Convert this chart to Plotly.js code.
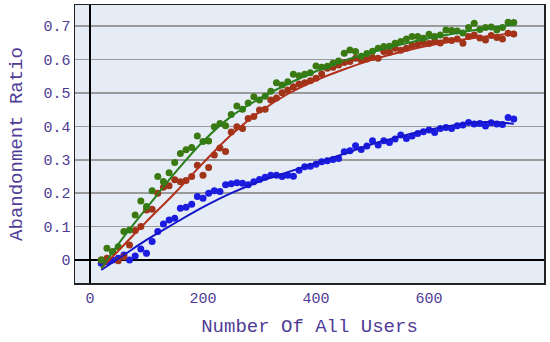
<!DOCTYPE html>
<html>
<head>
<meta charset="utf-8">
<script src="https://cdn.plot.ly/plotly-3.0.1.min.js"></script>
<style>html,body{margin:0;padding:0;background:#fff}#chart{width:550px;height:342px}</style>
</head>
<body>
<div id="chart"></div>
<script>
// x positions of observations
const users = [20,30,40,50,60,70,80,90,100,110,120,130,140,150,160,170,180,190,200,210,220,230,240,250,260,270,280,290,300,310,320,330,340,350,360,370,380,390,400,410,420,430,440,450,460,470,480,490,500,510,520,530,540,550,560,570,580,590,600,610,620,630,640,650,660,670,680,690,700,710,720,730,740,750];

const greenObs = [0.000,0.035,0.025,0.040,0.085,0.090,0.135,0.177,0.160,0.207,0.250,0.235,0.261,0.292,0.319,0.330,0.337,0.371,0.355,0.356,0.399,0.409,0.402,0.436,0.461,0.451,0.470,0.489,0.479,0.490,0.505,0.531,0.524,0.534,0.556,0.552,0.556,0.561,0.581,0.577,0.580,0.589,0.596,0.619,0.629,0.624,0.610,0.618,0.625,0.634,0.639,0.640,0.649,0.654,0.662,0.669,0.669,0.664,0.676,0.669,0.674,0.689,0.687,0.686,0.680,0.696,0.709,0.690,0.696,0.698,0.689,0.696,0.712,0.711];

const redObs = [0.000,0.005,0.025,-0.002,0.010,0.045,0.088,0.100,0.150,0.152,0.200,0.218,0.222,0.240,0.234,0.238,0.250,0.284,0.254,0.277,0.314,0.335,0.325,0.383,0.399,0.394,0.424,0.430,0.449,0.451,0.479,0.485,0.501,0.509,0.519,0.527,0.531,0.537,0.544,0.557,0.574,0.577,0.584,0.591,0.594,0.604,0.599,0.602,0.606,0.604,0.624,0.622,0.634,0.628,0.634,0.642,0.645,0.651,0.648,0.656,0.650,0.659,0.657,0.662,0.649,0.669,0.674,0.665,0.659,0.672,0.666,0.662,0.679,0.677];

const blueObs = [-0.010,-0.005,0.000,0.005,0.015,0.000,0.012,0.033,0.020,0.055,0.085,0.108,0.120,0.125,0.155,0.158,0.167,0.190,0.185,0.200,0.207,0.205,0.225,0.228,0.231,0.230,0.225,0.234,0.241,0.248,0.254,0.254,0.250,0.254,0.251,0.269,0.279,0.281,0.287,0.294,0.297,0.301,0.304,0.324,0.327,0.342,0.331,0.341,0.357,0.344,0.357,0.352,0.362,0.374,0.364,0.371,0.379,0.384,0.389,0.382,0.394,0.397,0.394,0.402,0.404,0.412,0.407,0.409,0.401,0.411,0.407,0.406,0.427,0.422];

// fitted trend curves
const fitX = [20,60,100,150,200,250,300,350,400,450,500,550,600,650,700,750];
const greenFit = [-0.025,0.070,0.155,0.260,0.355,0.430,0.483,0.527,0.565,0.597,0.623,0.645,0.664,0.680,0.693,0.705];
const redFit = [-0.025,0.045,0.115,0.200,0.290,0.375,0.443,0.497,0.538,0.571,0.600,0.623,0.642,0.657,0.669,0.679];
const blueFit = [-0.030,0.015,0.060,0.110,0.158,0.200,0.235,0.263,0.290,0.318,0.347,0.370,0.390,0.405,0.413,0.408];

const xTicks = [0,200,400,600];
const yTicks = [0,0.1,0.2,0.3,0.4,0.5,0.6,0.7];
const yTickText = ["0","0.1","0.2","0.3","0.4","0.5","0.6","0.7"];

const font = {family: "Liberation Mono, DejaVu Sans Mono, monospace", color: "#4f3c96"};

function pts(y, color) {
  return {x: users, y: y, type: "scatter", mode: "markers",
    marker: {color: color, size: 7}, showlegend: false, hoverinfo: "skip"};
}
function fit(y, color) {
  return {x: fitX, y: y, type: "scatter", mode: "lines",
    line: {color: color, width: 2, shape: "spline", smoothing: 1.0}, showlegend: false, hoverinfo: "skip"};
}

const data = [
  pts(blueObs, "#1c1ce0"),
  pts(redObs, "#a03418"),
  pts(greenObs, "#3b7a12"),
  fit(blueFit, "#1414c8"),
  fit(redFit, "#b0301a"),
  fit(greenFit, "#2a7f1c")
];

const layout = {
  width: 550, height: 342,
  margin: {l: 75, r: 6, t: 5, b: 59},
  paper_bgcolor: "#ffffff",
  plot_bgcolor: "#e5ecf6",
  font: {family: font.family, color: font.color, size: 15},
  showlegend: false,
  xaxis: {
    range: [-26.5, 803.5],
    tickvals: xTicks,
    ticktext: xTicks.map(String),
    showgrid: false,
    zeroline: true, zerolinecolor: "#000000", zerolinewidth: 2,
    showline: true, linecolor: "#222222", linewidth: 1.5, mirror: true,
    ticks: "", tickfont: {size: 15, color: font.color, family: font.family},
    title: {text: "Number Of All Users", font: {size: 19, color: font.color, family: font.family}, standoff: 12}
  },
  yaxis: {
    range: [-0.0689, 0.7635],
    tickvals: yTicks,
    ticktext: yTickText,
    showgrid: true, gridcolor: "#9a9a9a", gridwidth: 1.5,
    zeroline: true, zerolinecolor: "#000000", zerolinewidth: 2,
    showline: true, linecolor: "#222222", linewidth: 1.5, mirror: true,
    ticks: "", tickfont: {size: 15, color: font.color, family: font.family},
    title: {text: "Abandonment Ratio", font: {size: 19, color: font.color, family: font.family}, standoff: 16}
  }
};

Plotly.newPlot("chart", data, layout, {displayModeBar: false, staticPlot: true});
</script>
</body>
</html>
